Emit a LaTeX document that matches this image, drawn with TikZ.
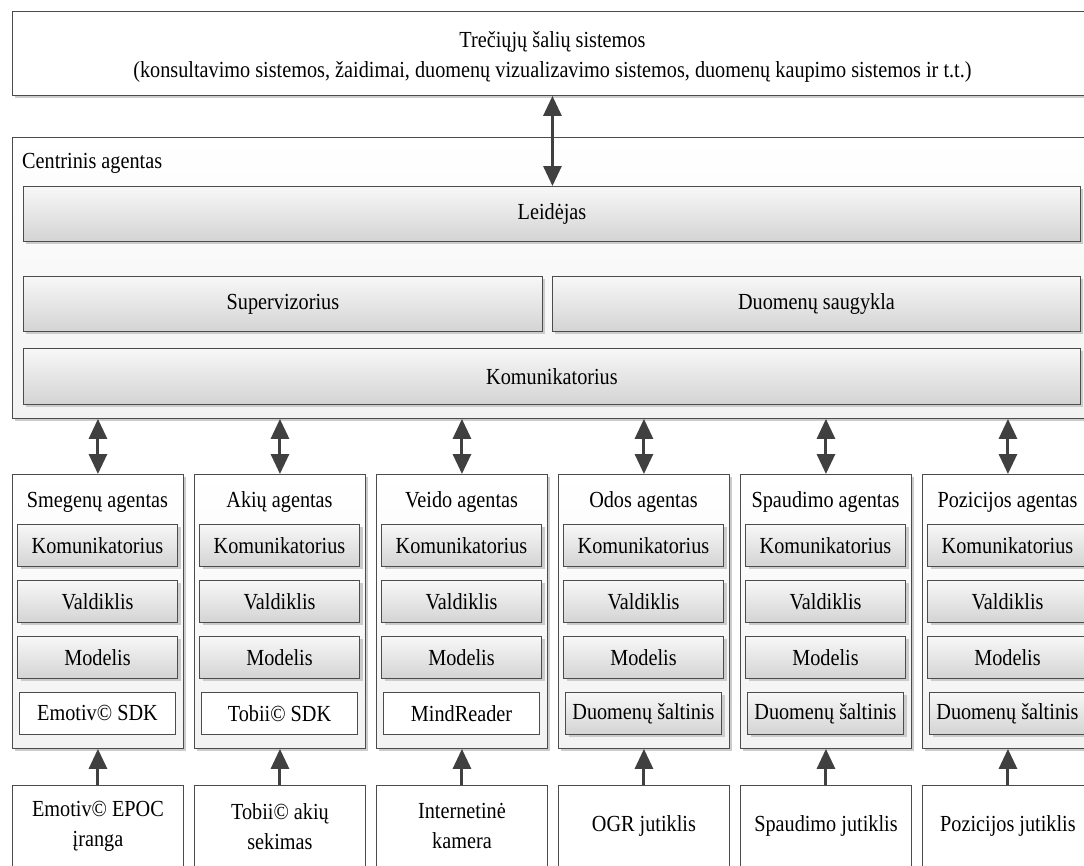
\documentclass[tikz,border=0pt]{standalone}
\usepackage{fontspec}
\setmainfont{Liberation Serif}[FakeStretch=0.88]
\usetikzlibrary{arrows.meta,shadows}

\tikzset{
  every node/.style={font=\fontsize{23}{30}\selectfont, inner sep=2pt},
  frame/.style={draw=black!70, line width=0.9pt},
  softshadow/.style={drop shadow={shadow xshift=3pt, shadow yshift=-3pt, fill=black!20, opacity=1}},
  plainbox/.style={frame, fill=white},
  panel/.style={frame, top color=white, bottom color=black!5, softshadow},
  layer/.style={frame, top color=black!3, bottom color=black!17, softshadow},
  sdkbox/.style={frame, fill=white},
  caption/.style={inner sep=0pt},
  link/.style={line width=3pt, draw=black!75, {Triangle[width=18pt,length=20pt]}-{Triangle[width=18pt,length=20pt]}},
  feed/.style={line width=3pt, draw=black!75, -{Triangle[width=18pt,length=20pt]}}
}

\begin{document}
\begin{tikzpicture}[x=1pt, y=-1pt]
  \clip (0,0) rectangle (1084,865);
  \fill[white] (0,0) rectangle (1084,865);

  % external systems
  \node[plainbox, softshadow, anchor=north west, minimum width=1080pt, minimum height=84pt] (ext) at (12,11) {};
  \node[caption, align=center] (exttext) at ([yshift=-3pt]ext.center)
        {Trečiųjų šalių sistemos\\(konsultavimo sistemos, žaidimai, duomenų vizualizavimo sistemos, duomenų kaupimo sistemos ir t.t.)};

  % central agent
  \node[panel, anchor=north west, minimum width=1079pt, minimum height=281pt] (central) at (12,137) {};
  \node[caption, anchor=west] (ctitle) at (22,163) {Centrinis agentas};
  \node[layer, anchor=north west, minimum width=1057pt, minimum height=55pt] (pub) at (23,186) {Leidėjas};
  \node[layer, anchor=north west, minimum width=519pt, minimum height=55pt] (sup) at (23,276) {Supervizorius};
  \node[layer, anchor=north west, minimum width=528pt, minimum height=55pt] (store) at (552,276) {Duomenų saugykla};
  \node[layer, anchor=north west, minimum width=1057pt, minimum height=56pt] (comm) at (23,348) {Komunikatorius};

  \draw[link] (ext.south) -- (ext.south |- pub.north);

  % sensor agents
  \foreach \i/\agent/\src/\srcstyle/\dev in {
      1/Smegenų agentas/Emotiv© SDK/sdkbox/{Emotiv© EPOC\\įranga},
      2/Akių agentas/Tobii© SDK/sdkbox/{Tobii© akių\\sekimas},
      3/Veido agentas/MindReader/sdkbox/{Internetinė\\kamera},
      4/Odos agentas/Duomenų šaltinis/layer/{OGR jutiklis},
      5/Spaudimo agentas/Duomenų šaltinis/layer/{Spaudimo jutiklis},
      6/Pozicijos agentas/Duomenų šaltinis/layer/{Pozicijos jutiklis}} {
    \pgfmathsetmacro{\xl}{12+182*(\i-1)}
    \pgfmathsetmacro{\xc}{\xl+85.5}
    \node[panel, anchor=north west, minimum width=171pt, minimum height=274pt] (ag\i) at (\xl,474) {};
    \node[caption] (agt\i) at (\xc,502) {\agent};
    \node[layer, anchor=north, minimum width=160pt, minimum height=42pt] (agc\i) at (\xc,524) {Komunikatorius};
    \node[layer, anchor=north, minimum width=160pt, minimum height=42pt] (agv\i) at (\xc,580) {Valdiklis};
    \node[layer, anchor=north, minimum width=160pt, minimum height=42pt] (agm\i) at (\xc,636) {Modelis};
    \node[\srcstyle, anchor=north, minimum width=156pt, minimum height=42pt] (ags\i) at (\xc,692) {\src};
    \node[plainbox, anchor=north west, minimum width=171pt, minimum height=82pt, align=center] (dev\i) at (\xl,785) {\dev};

    \draw[link] (ag\i.north |- central.south) -- (ag\i.north);
    \draw[feed] (dev\i.north) -- (ag\i.south);
  }
\end{tikzpicture}
\end{document}
